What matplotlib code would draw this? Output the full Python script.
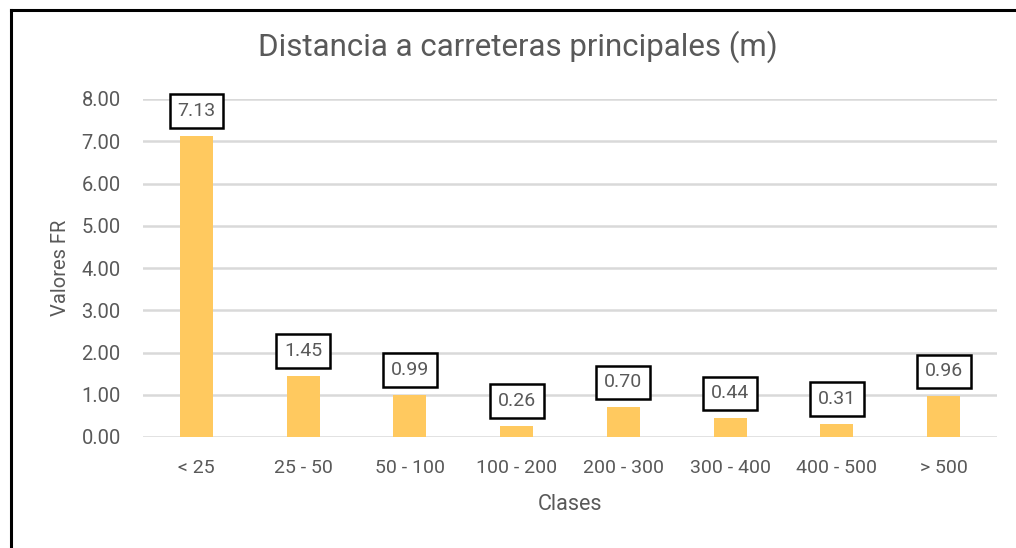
import matplotlib
matplotlib.use("Agg")
import matplotlib.pyplot as plt
from matplotlib.lines import Line2D

categories = ["< 25", "25 - 50", "50 - 100", "100 - 200", "200 - 300", "300 - 400", "400 - 500", "> 500"]
values = [7.13, 1.45, 0.99, 0.26, 0.70, 0.44, 0.31, 0.96]
yticks = [0, 1, 2, 3, 4, 5, 6, 7, 8]

plt.rcParams['font.family'] = ['Roboto', 'DejaVu Sans']
TXT = '#595959'

W, H = 1016, 548
fig = plt.figure(figsize=(W / 100, H / 100), dpi=100)
ax = fig.add_axes([143 / W, 1 - 437 / H, (997 - 143) / W, (437 - 99) / H])

x = list(range(len(categories)))
ax.bar(x, values, width=0.31, color='#FFC95F', zorder=3)
ax.set_xlim(-0.5, len(categories) - 0.5)
ax.set_ylim(0, 8)
ax.set_yticks(yticks)
ax.set_yticklabels([f"{v:.2f}" for v in yticks], color=TXT, fontsize=14.5)
ax.set_xticks(x)
ax.set_xticklabels(categories, color=TXT, fontsize=14)
ax.tick_params(axis='both', length=0)
ax.tick_params(axis='y', pad=16)
ax.tick_params(axis='x', pad=16)
ax.grid(axis='y', color='#D9D9D9', linewidth=1.8, zorder=0)
ax.set_axisbelow(True)
for s in ax.spines.values():
    s.set_visible(False)

for xi, v in zip(x, values):
    ax.annotate(f"{v:.2f}", (xi, v), xytext=(0, 25), textcoords='offset pixels',
                ha='center', va='center', fontsize=14, color=TXT,
                bbox=dict(boxstyle='square,pad=0.4', fc='white', ec='black', lw=1.8), zorder=5)

ax.set_ylabel("Valores FR", color=TXT, fontsize=14.5, labelpad=8)
ax.set_xlabel("Clases", color=TXT, fontsize=15.5, labelpad=12)

fig.text(518 / W, 1 - 47 / H, "Distancia a carreteras principales (m)", ha='center', va='center',
         fontsize=22.5, color=TXT)

fig.add_artist(Line2D([10.5 / W, 10.5 / W], [0, 1 - 9.5 / H], transform=fig.transFigure, color='black', lw=2.2))
fig.add_artist(Line2D([10.5 / W, 1], [1 - 9.5 / H, 1 - 9.5 / H], transform=fig.transFigure, color='black', lw=2.2))

fig.savefig("out.png", dpi=100)
